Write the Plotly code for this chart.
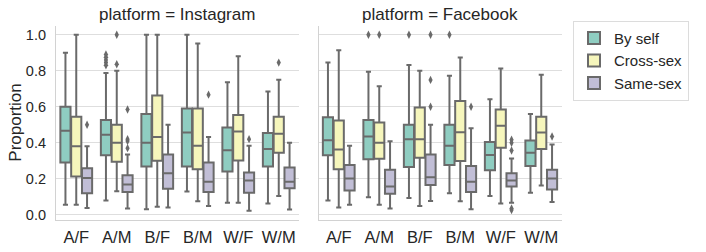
import plotly.graph_objects as go

# ---------------- data ----------------
categories = ["A/F", "A/M", "B/F", "B/M", "W/F", "W/M"]
hues = ["By self", "Cross-sex", "Same-sex"]
platforms = ["Instagram", "Facebook"]

# Instagram – By self
ig_self_low = [0.056, 0.080, 0.031, 0.129, 0.067, 0.062]
ig_self_q1 = [0.290, 0.330, 0.268, 0.268, 0.240, 0.268]
ig_self_med = [0.466, 0.444, 0.400, 0.457, 0.359, 0.366]
ig_self_q3 = [0.600, 0.526, 0.560, 0.590, 0.485, 0.454]
ig_self_up = [0.900, 0.787, 1.000, 1.000, 0.736, 0.685]
# Instagram – Cross-sex
ig_cross_low = [0.056, 0.131, 0.044, 0.075, 0.067, 0.104]
ig_cross_q1 = [0.213, 0.295, 0.300, 0.253, 0.302, 0.344]
ig_cross_med = [0.380, 0.400, 0.432, 0.384, 0.463, 0.450]
ig_cross_q3 = [0.545, 0.500, 0.663, 0.590, 0.554, 0.545]
ig_cross_up = [1.000, 0.800, 1.000, 0.951, 0.880, 0.750]
# Instagram – Same-sex
ig_same_low = [0.038, 0.035, 0.040, 0.049, 0.022, 0.029]
ig_same_q1 = [0.120, 0.126, 0.144, 0.126, 0.122, 0.148]
ig_same_med = [0.204, 0.168, 0.231, 0.184, 0.190, 0.184]
ig_same_q3 = [0.259, 0.220, 0.335, 0.290, 0.235, 0.262]
ig_same_up = [0.380, 0.335, 0.500, 0.432, 0.384, 0.400]

# Facebook – By self
fb_self_low = [0.080, 0.098, 0.093, 0.120, 0.104, 0.122]
fb_self_q1 = [0.330, 0.308, 0.266, 0.277, 0.248, 0.271]
fb_self_med = [0.414, 0.435, 0.420, 0.384, 0.332, 0.344]
fb_self_q3 = [0.541, 0.526, 0.500, 0.500, 0.404, 0.412]
fb_self_up = [0.845, 0.794, 0.832, 0.772, 0.641, 0.560]
# Facebook – Cross-sex
fb_cross_low = [0.040, 0.056, 0.049, 0.075, 0.062, 0.162]
fb_cross_q1 = [0.253, 0.311, 0.317, 0.299, 0.372, 0.366]
fb_cross_med = [0.362, 0.400, 0.420, 0.459, 0.494, 0.457]
fb_cross_q3 = [0.523, 0.512, 0.596, 0.632, 0.585, 0.545]
fb_cross_up = [0.914, 0.714, 0.800, 0.873, 0.812, 0.778]
# Facebook – Same-sex
fb_same_low = [0.056, 0.035, 0.077, 0.031, 0.067, 0.071]
fb_same_q1 = [0.135, 0.117, 0.166, 0.126, 0.157, 0.140]
fb_same_med = [0.202, 0.157, 0.208, 0.184, 0.190, 0.202]
fb_same_q3 = [0.277, 0.250, 0.335, 0.271, 0.231, 0.250]
fb_same_up = [0.384, 0.408, 0.500, 0.481, 0.313, 0.390]

# Outliers (category, value)
ig_self_out_cat = ["A/M", "A/M", "A/M", "A/M", "A/M"]
ig_self_out_val = [0.830, 0.845, 0.860, 0.875, 0.890]
ig_cross_out_cat = ["A/M", "A/M", "W/M"]
ig_cross_out_val = [0.836, 1.000, 0.845]
ig_same_out_cat = ["A/F", "A/M", "A/M", "A/M", "A/M", "B/M", "W/F"]
ig_same_out_val = [0.500, 0.370, 0.410, 0.420, 0.585, 0.667, 0.420]

fb_self_out_cat = ["A/M", "B/F", "B/M"]
fb_self_out_val = [1.000, 1.000, 1.000]
fb_cross_out_cat = ["A/M"]
fb_cross_out_val = [1.000]
fb_same_out_cat = ["B/F", "B/F", "B/F", "B/M", "W/F", "W/F", "W/F", "W/F", "W/F", "W/M"]
fb_same_out_val = [0.600, 0.749, 1.000, 0.600, 0.027, 0.035, 0.357, 0.400, 0.417, 0.435]

y_ticks = [0.0, 0.2, 0.4, 0.6, 0.8, 1.0]

# ---------------- styling ----------------
fills = {"By self": "#8fcdc1", "Cross-sex": "#f6f6bc", "Same-sex": "#c1bed6"}
edge = "#6a6a6a"
grid = "#dedede"
spine = "#d2d2d2"
txt = "#262626"
FONT = "Liberation Sans, Arial, sans-serif"

W, H = 706, 252
x_domains = [[56 / W, 299 / W], [318.5 / W, 561.5 / W]]
y_domain = [(H - 222.3) / H, (H - 26) / H]

stats = {
    ("Instagram", "By self"): (ig_self_low, ig_self_q1, ig_self_med, ig_self_q3, ig_self_up, ig_self_out_cat, ig_self_out_val),
    ("Instagram", "Cross-sex"): (ig_cross_low, ig_cross_q1, ig_cross_med, ig_cross_q3, ig_cross_up, ig_cross_out_cat, ig_cross_out_val),
    ("Instagram", "Same-sex"): (ig_same_low, ig_same_q1, ig_same_med, ig_same_q3, ig_same_up, ig_same_out_cat, ig_same_out_val),
    ("Facebook", "By self"): (fb_self_low, fb_self_q1, fb_self_med, fb_self_q3, fb_self_up, fb_self_out_cat, fb_self_out_val),
    ("Facebook", "Cross-sex"): (fb_cross_low, fb_cross_q1, fb_cross_med, fb_cross_q3, fb_cross_up, fb_cross_out_cat, fb_cross_out_val),
    ("Facebook", "Same-sex"): (fb_same_low, fb_same_q1, fb_same_med, fb_same_q3, fb_same_up, fb_same_out_cat, fb_same_out_val),
}

fig = go.Figure()
for pi, plat in enumerate(platforms):
    xa = "x" if pi == 0 else "x2"
    ya = "y" if pi == 0 else "y2"
    for hue in hues:
        low, q1, med, q3, up, oc, ov = stats[(plat, hue)]
        fig.add_trace(go.Box(
            x=categories, q1=q1, median=med, q3=q3, lowerfence=low, upperfence=up,
            name=hue, legendgroup=hue, showlegend=(pi == 0), offsetgroup=hue,
            fillcolor=fills[hue], line=dict(color=edge, width=2),
            whiskerwidth=0.5, boxpoints=False, xaxis=xa, yaxis=ya,
        ))
    for hue in hues:
        low, q1, med, q3, up, oc, ov = stats[(plat, hue)]
        fig.add_trace(go.Scatter(
            x=oc, y=ov, mode="markers", offsetgroup=hue, legendgroup=hue,
            showlegend=False, xaxis=xa, yaxis=ya, hoverinfo="y",
            marker=dict(symbol="diamond-tall", size=6, color=edge, line=dict(width=0)),
        ))

axis_common = dict(
    showline=True, linecolor=spine, linewidth=1.2, ticks="", zeroline=False,
)
xtick_font = dict(family=FONT, size=16.5, color=txt)
ytick_font = dict(family=FONT, size=14.5, color=txt)
fig.update_layout(
    width=W, height=H, margin=dict(l=0, r=0, t=0, b=0),
    paper_bgcolor="white", plot_bgcolor="white",
    font=dict(family=FONT, color=txt),
    boxmode="group", boxgap=0.2, boxgroupgap=0.06,
    scattermode="group", scattergap=0.2,
    showlegend=True,
    legend=dict(
        x=573 / W, y=(H - 21) / H, xanchor="left", yanchor="top",
        bordercolor="#dcdcdc", borderwidth=1, bgcolor="white",
        font=dict(family=FONT, size=15, color=txt),
        tracegroupgap=0, itemwidth=30,
    ),
    xaxis=dict(domain=x_domains[0], anchor="y", type="category",
               categoryorder="array", categoryarray=categories,
               showgrid=False, ticklabelstandoff=2, tickfont=xtick_font, **axis_common),
    xaxis2=dict(domain=x_domains[1], anchor="y2", type="category",
                categoryorder="array", categoryarray=categories,
                showgrid=False, ticklabelstandoff=2, tickfont=xtick_font, **axis_common),
    yaxis=dict(domain=y_domain, anchor="x", range=[-0.027, 1.05],
               tickvals=y_ticks, ticktext=[f"{v:.1f}" for v in y_ticks],
               ticklabelstandoff=6, tickfont=ytick_font,
               showgrid=True, gridcolor=grid, gridwidth=1.2, **axis_common),
    yaxis2=dict(domain=y_domain, anchor="x2", matches="y", range=[-0.027, 1.05],
                tickvals=y_ticks, showticklabels=False,
                showgrid=True, gridcolor=grid, gridwidth=1.2, **axis_common),
)

for pi, plat in enumerate(platforms):
    cx = (x_domains[pi][0] + x_domains[pi][1]) / 2
    fig.add_annotation(
        text=f"platform = {plat}", x=cx, y=(H - 15) / H, xref="paper", yref="paper",
        xanchor="center", yanchor="middle", showarrow=False,
        font=dict(family=FONT, size=17, color=txt),
    )
fig.add_annotation(
    text="Proportion", x=16 / W, y=(y_domain[0] + y_domain[1]) / 2,
    xref="paper", yref="paper", xanchor="center", yanchor="middle",
    textangle=-90, showarrow=False, font=dict(family=FONT, size=17, color=txt),
)

fig.write_html("out.html", config={"displayModeBar": False},
               post_script="document.body.style.margin='0px';")
